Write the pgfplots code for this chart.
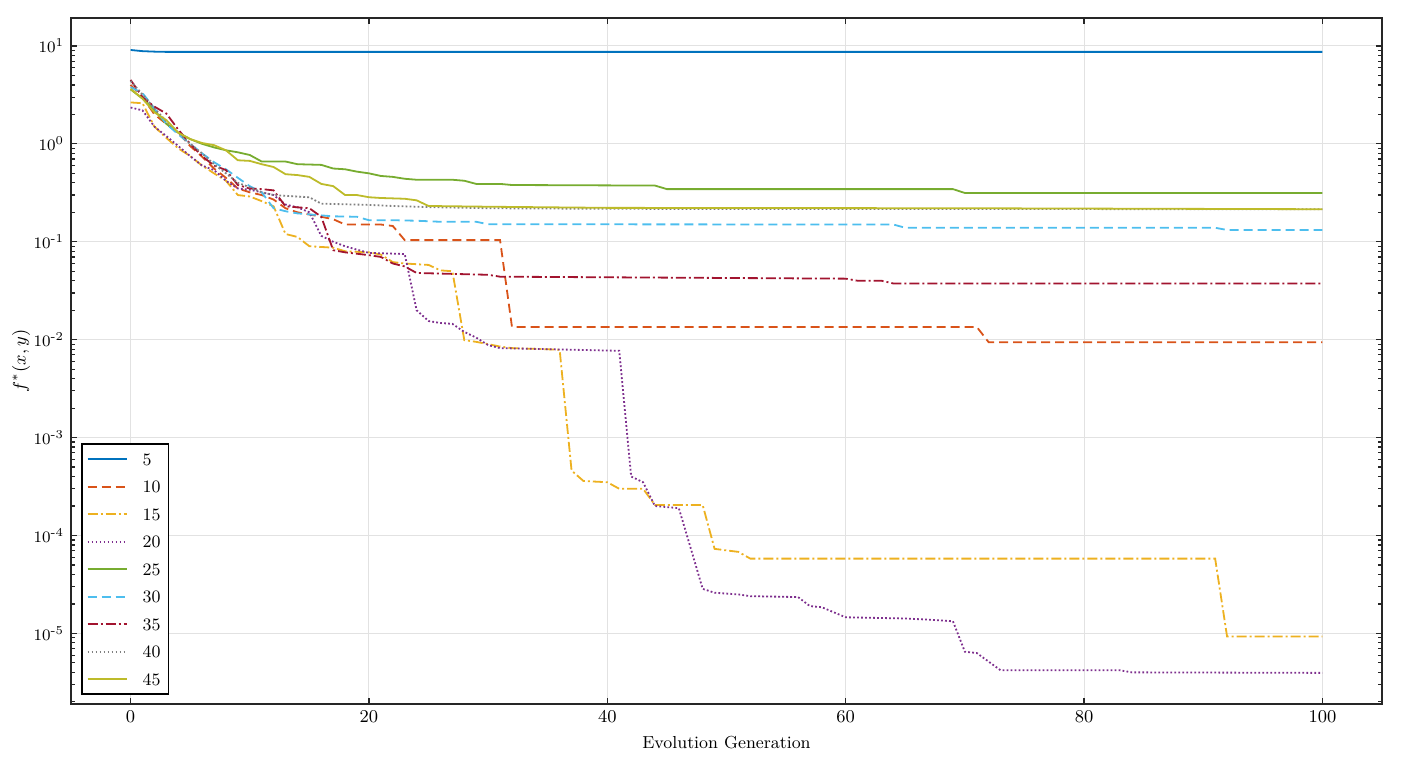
\documentclass[border=0pt]{standalone}
\usepackage{amsmath}
\usepackage{pgfplots}
\pgfplotsset{compat=1.18}
\usetikzlibrary{calc}
\definecolor{c1}{HTML}{0072BD}
\definecolor{c2}{HTML}{D95319}
\definecolor{c3}{HTML}{EDB120}
\definecolor{c4}{HTML}{7E2F8E}
\definecolor{c5}{HTML}{77AC30}
\definecolor{c6}{HTML}{4DBEEE}
\definecolor{c7}{HTML}{A2142F}
\definecolor{c8}{HTML}{808080}
\definecolor{c9}{HTML}{BDBB2A}
\definecolor{gridc}{HTML}{E2E2E2}
\begin{document}
\begin{tikzpicture}
\begin{axis}[
  scale only axis, width=655.5pt, height=343pt,
  xmin=-5, xmax=105, ymode=log, ymin=1.9e-6, ymax=19.3,
  xtick={0,20,40,60,80,100},
  ytick={1e-5,1e-4,1e-3,1e-2,1e-1,1,10},
  yticklabels={{$10^{\text{-}5}$},{$10^{\text{-}4}$},{$10^{\text{-}3}$},{$10^{\text{-}2}$},{$10^{\text{-}1}$},{$10^{0}$},{$10^{1}$}},
  minor ytick={2e-6,3e-6,4e-6,5e-6,6e-6,7e-6,8e-6,9e-6,
    2e-5,3e-5,4e-5,5e-5,6e-5,7e-5,8e-5,9e-5,
    2e-4,3e-4,4e-4,5e-4,6e-4,7e-4,8e-4,9e-4,
    2e-3,3e-3,4e-3,5e-3,6e-3,7e-3,8e-3,9e-3,
    2e-2,3e-2,4e-2,5e-2,6e-2,7e-2,8e-2,9e-2,
    0.2,0.3,0.4,0.5,0.6,0.7,0.8,0.9,2,3,4,5,6,7,8,9},
  xmajorgrids, ymajorgrids,
  major grid style={color=gridc, line width=0.5pt},
  tick align=inside, tick pos=both,
  major tick length=3pt, minor tick length=1.8pt,
  every tick/.style={color=black!85, line width=0.6pt},
  axis line style={color=black!85, line width=0.8pt},
  tick label style={font=\fontsize{8.7}{10}\selectfont},
  yticklabel style={font=\fontsize{8}{9}\selectfont},
  label style={font=\fontsize{8.7}{10}\selectfont},
  xlabel={Evolution Generation}, ylabel={$f^*(x,y)$},
  ylabel style={at={(axis description cs:-0.038,0.5)}, anchor=center},
  legend cell align=left,
  legend image code/.code={\draw[#1] (0pt,0pt) -- (19.5pt,0pt);},
  legend style={at={(0.0076,0.013)}, anchor=south west, draw=black, line width=0.8pt,
    font=\fontsize{8.7}{10}\selectfont, inner xsep=2.5pt, inner ysep=3pt,
    nodes={inner sep=1.5pt, text height=6pt, text depth=0pt},
    row sep=4.75pt,
    /tikz/every odd column/.append style={column sep=6pt}},
  every axis plot/.append style={line width=0.9pt},
]
\addplot[c1, solid] coordinates {(0,9.1)(1,8.85)(2,8.75)(3,8.7)(100,8.7)};
\addlegendentry{5}
\addplot[c2, dash pattern=on 4.5pt off 2.5pt] coordinates {(0,4.0)(1,3.0)(2,2.0)(3,1.6)(4,1.3)(5,0.95)(6,0.74)(7,0.56)(8,0.45)(9,0.35)(10,0.32)(11,0.3)(12,0.27)(13,0.22)(14,0.2)(15,0.19)(16,0.18)(17,0.17)(18,0.15)(21,0.15)(22,0.145)(23,0.104)(31,0.104)(32,0.0135)(71,0.0135)(72,0.0094)(100,0.0094)};
\addlegendentry{10}
\addplot[c3, dash pattern=on 5pt off 1.5pt on 1pt off 1.5pt] coordinates {(0,2.65)(1,2.6)(2,1.5)(3,1.15)(4,0.9)(5,0.75)(6,0.6)(7,0.5)(8,0.42)(9,0.3)(10,0.29)(11,0.26)(12,0.23)(13,0.12)(14,0.112)(15,0.09)(17,0.087)(18,0.08)(20,0.078)(21,0.074)(22,0.062)(23,0.06)(24,0.059)(25,0.058)(26,0.051)(27,0.05)(28,0.0099)(29,0.0095)(30,0.009)(31,0.0085)(32,0.0082)(36,0.0079)(37,4.6e-4)(38,3.6e-4)(40,3.5e-4)(41,3.0e-4)(43,3.0e-4)(44,2.05e-4)(48,2.05e-4)(49,7.3e-5)(51,6.8e-5)(52,5.8e-5)(91,5.8e-5)(92,9.3e-6)(100,9.3e-6)};
\addlegendentry{15}
\addplot[c4, dash pattern=on 0.9pt off 1.1pt] coordinates {(0,2.35)(1,2.2)(2,1.5)(3,1.2)(4,0.95)(5,0.75)(6,0.6)(7,0.54)(8,0.42)(9,0.35)(10,0.34)(11,0.32)(12,0.3)(13,0.24)(14,0.225)(15,0.2)(16,0.115)(17,0.1)(18,0.09)(19,0.083)(20,0.077)(23,0.075)(24,0.02)(25,0.0155)(26,0.0148)(27,0.0145)(28,0.012)(29,0.0105)(30,0.0088)(31,0.0082)(41,0.0077)(42,4.0e-4)(43,3.5e-4)(44,2.0e-4)(46,1.9e-4)(47,7.4e-5)(48,2.85e-5)(49,2.6e-5)(51,2.5e-5)(52,2.4e-5)(56,2.35e-5)(57,1.9e-5)(58,1.85e-5)(60,1.46e-5)(65,1.42e-5)(67,1.38e-5)(69,1.33e-5)(70,6.5e-6)(71,6.3e-6)(73,4.2e-6)(83,4.2e-6)(84,4.0e-6)(100,3.95e-6)};
\addlegendentry{20}
\addplot[c5, solid] coordinates {(0,3.6)(1,2.9)(2,2.2)(3,1.6)(4,1.3)(5,1.12)(6,1.0)(7,0.92)(8,0.86)(9,0.82)(10,0.77)(11,0.66)(13,0.66)(14,0.62)(16,0.61)(17,0.56)(18,0.55)(19,0.52)(20,0.5)(21,0.47)(22,0.46)(23,0.44)(24,0.43)(27,0.43)(28,0.42)(29,0.39)(31,0.39)(32,0.38)(44,0.375)(45,0.345)(69,0.345)(70,0.315)(100,0.315)};
\addlegendentry{25}
\addplot[c6, dash pattern=on 4.5pt off 2.5pt] coordinates {(0,3.8)(1,3.3)(2,2.3)(3,1.6)(4,1.25)(5,1.0)(6,0.8)(7,0.65)(8,0.55)(9,0.45)(10,0.37)(11,0.32)(12,0.22)(13,0.205)(14,0.195)(16,0.186)(17,0.182)(19,0.18)(20,0.166)(22,0.166)(24,0.164)(26,0.16)(29,0.16)(30,0.151)(64,0.15)(65,0.139)(91,0.139)(92,0.132)(100,0.132)};
\addlegendentry{30}
\addplot[c7, dash pattern=on 5pt off 1.5pt on 1pt off 1.5pt] coordinates {(0,4.5)(1,3.0)(2,2.4)(3,2.04)(4,1.4)(5,1.0)(6,0.75)(7,0.6)(8,0.54)(9,0.38)(10,0.35)(11,0.345)(12,0.335)(13,0.23)(14,0.225)(15,0.22)(16,0.18)(17,0.082)(18,0.078)(20,0.073)(21,0.07)(22,0.06)(23,0.056)(24,0.048)(30,0.046)(31,0.044)(60,0.042)(61,0.04)(63,0.04)(64,0.0375)(100,0.0375)};
\addlegendentry{35}
\addplot[c8, dash pattern=on 0.9pt off 1.1pt] coordinates {(0,4.4)(1,3.2)(2,2.3)(3,1.7)(4,1.3)(5,1.0)(6,0.8)(7,0.62)(8,0.5)(9,0.4)(10,0.36)(11,0.32)(12,0.3)(13,0.295)(14,0.29)(15,0.285)(16,0.245)(20,0.238)(22,0.232)(25,0.226)(30,0.22)(40,0.217)(100,0.215)};
\addlegendentry{40}
\addplot[c9, solid] coordinates {(0,3.65)(1,2.9)(2,2.1)(3,1.75)(4,1.3)(5,1.12)(6,1.02)(7,0.97)(8,0.86)(9,0.68)(10,0.67)(11,0.62)(12,0.58)(13,0.49)(14,0.48)(15,0.46)(16,0.39)(17,0.37)(18,0.3)(19,0.3)(20,0.285)(21,0.28)(23,0.275)(24,0.265)(25,0.232)(30,0.228)(40,0.222)(70,0.22)(100,0.215)};
\addlegendentry{45}
\end{axis}
\pgfresetboundingbox
\path[use as bounding box] ($(current axis.south west)+(-35.5pt,-28.5pt)$) rectangle ($(current axis.north east)+(19pt,9pt)$);
\end{tikzpicture}
\end{document}
